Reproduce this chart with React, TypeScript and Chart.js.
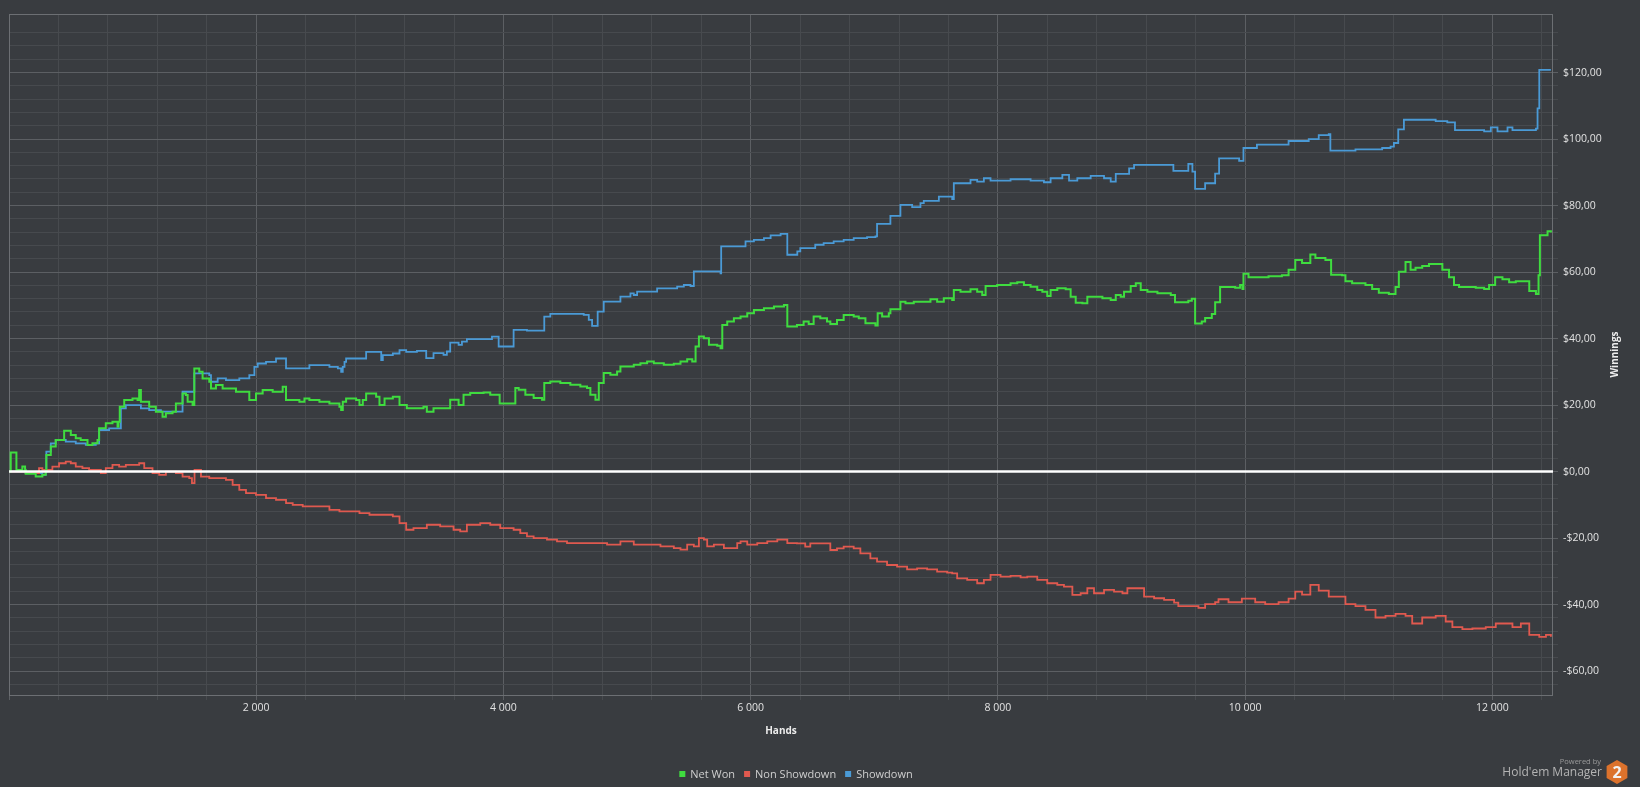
import React, { useEffect, useRef } from "react";
import { Chart, registerables } from "chart.js";

Chart.register(...registerables);

// ---------------- data ----------------
const X_MIN = 0;
const X_MAX = 12490;
const Y_MIN = -67.2;
const Y_MAX = 137.6;

const xMajorTicks = [2000, 4000, 6000, 8000, 10000, 12000];
const xMajorLabels = ["2 000", "4 000", "6 000", "8 000", "10 000", "12 000"];
const yMajorTicks = [-60, -40, -20, 0, 20, 40, 60, 80, 100, 120];
const yMajorLabels = ["-$60,00", "-$40,00", "-$20,00", "$0,00", "$20,00", "$40,00", "$60,00", "$80,00", "$100,00", "$120,00"];

const seriesNames = ["Net Won", "Non Showdown", "Showdown"];

const netWonHands = [0, 14, 60, 108, 130, 135, 216, 270, 297, 302, 338, 378, 446, 500, 540, 580, 635, 675, 716, 729, 783, 837, 878, 886, 896, 932, 999, 1040, 1053, 1067, 1134, 1188, 1242, 1269, 1323, 1350, 1404, 1431, 1445, 1485, 1499, 1539, 1566, 1620, 1634, 1674, 1728, 1836, 1944, 1998, 2052, 2133, 2214, 2241, 2349, 2390, 2430, 2511, 2592, 2673, 2687, 2700, 2727, 2808, 2835, 2862, 2889, 2970, 2997, 3038, 3105, 3159, 3218, 3353, 3380, 3434, 3569, 3637, 3677, 3731, 3839, 3893, 3969, 4096, 4123, 4177, 4244, 4312, 4330, 4379, 4460, 4541, 4622, 4676, 4703, 4744, 4771, 4811, 4865, 4919, 4946, 5054, 5108, 5162, 5216, 5297, 5378, 5432, 5486, 5527, 5554, 5581, 5621, 5662, 5729, 5756, 5770, 5810, 5864, 5918, 5972, 6026, 6107, 6188, 6269, 6296, 6374, 6428, 6469, 6509, 6563, 6617, 6644, 6698, 6752, 6833, 6874, 6928, 7009, 7027, 7063, 7117, 7130, 7211, 7252, 7319, 7454, 7508, 7562, 7630, 7643, 7697, 7778, 7832, 7873, 7900, 7994, 8102, 8156, 8210, 8264, 8318, 8359, 8399, 8426, 8480, 8548, 8588, 8629, 8683, 8723, 8845, 8912, 8953, 8993, 9020, 9074, 9115, 9155, 9209, 9290, 9398, 9432, 9540, 9568, 9595, 9649, 9676, 9730, 9757, 9797, 9919, 9959, 9978, 9986, 10027, 10189, 10297, 10351, 10405, 10460, 10527, 10568, 10649, 10695, 10784, 10811, 10865, 10973, 11027, 11081, 11162, 11216, 11243, 11297, 11338, 11378, 11432, 11487, 11595, 11649, 11689, 11730, 11865, 11933, 11973, 12022, 12081, 12135, 12189, 12243, 12298, 12352, 12373, 12384, 12446, 12473];
const netWonValues = [0, 5.7, 0.5, 1.5, 0.5, -0.7, -1.5, -1.0, 0, 5, 7.5, 9.5, 12.3, 11, 10, 9.5, 8, 8.5, 9.5, 13, 14.5, 15, 13.5, 15, 19.5, 21.5, 22, 21.5, 24.5, 21, 19.5, 18, 16.5, 17.5, 18, 20.5, 23.5, 23, 21, 20, 31, 30, 28, 27, 25, 26, 25, 24, 21.5, 23.5, 24.5, 24, 25.5, 21.5, 21, 22, 21.5, 21, 20.5, 19.5, 18.5, 21, 22, 21.5, 20, 21.5, 23.5, 22.5, 20, 22, 22.5, 20, 19, 19.5, 18, 19, 21.6, 20, 23.1, 23.6, 23.8, 23.1, 20.5, 25.1, 24.6, 23.1, 22.1, 21.6, 26.6, 27.1, 26.6, 26.1, 25.6, 25.1, 23.1, 21.6, 26.6, 29.6, 29.1, 30.1, 31.6, 32.1, 32.6, 33.1, 32.6, 32.1, 32.4, 33.1, 33.8, 33.1, 37.6, 40.6, 40.1, 38.1, 37.8, 37.1, 44.1, 45.1, 46.1, 46.6, 47.6, 48.6, 49.1, 49.6, 50.1, 43.6, 44.1, 45.1, 44.4, 46.6, 46.1, 45.1, 44.4, 45.6, 47.1, 46.6, 46.1, 44.6, 43.9, 47.6, 46.6, 47.6, 48.8, 51.1, 50.6, 51.1, 51.8, 51.1, 52.1, 51.6, 54.6, 54.1, 54.8, 54.1, 53.1, 55.8, 56.1, 56.6, 56.9, 56.1, 55.6, 54.6, 54.1, 52.8, 54.6, 55.1, 54.8, 52.6, 50.8, 50.6, 52.6, 52.1, 51.6, 53.1, 52.6, 54.1, 55.8, 56.6, 54.6, 54.1, 53.6, 53.1, 50.9, 51.4, 52.0, 44.5, 45.1, 46.2, 47.4, 50.9, 55.5, 55.3, 56.1, 54.9, 59.5, 58.4, 58.7, 59.0, 60.7, 63.6, 62.7, 65.3, 64.2, 63.6, 59.2, 59.0, 57.2, 56.6, 56.1, 54.9, 53.8, 53.4, 55.5, 60.1, 63.0, 60.7, 61.3, 61.8, 62.4, 60.7, 58.4, 56.1, 55.5, 55.3, 54.9, 56.1, 58.4, 57.8, 56.9, 57.2, 57.2, 54.3, 53.4, 59.0, 71.1, 72.3, 71.9];

const nonShowdownHands = [0, 135, 243, 270, 351, 405, 459, 500, 540, 594, 648, 743, 783, 837, 891, 945, 1053, 1094, 1161, 1215, 1269, 1350, 1404, 1458, 1480, 1501, 1553, 1620, 1755, 1809, 1863, 1917, 1998, 2079, 2160, 2241, 2295, 2376, 2484, 2592, 2673, 2835, 2916, 3024, 3105, 3159, 3213, 3272, 3380, 3488, 3596, 3650, 3704, 3812, 3893, 3974, 4082, 4136, 4190, 4244, 4352, 4433, 4514, 4730, 4838, 4946, 5054, 5270, 5378, 5432, 5486, 5540, 5581, 5621, 5648, 5702, 5783, 5891, 5918, 5972, 6053, 6134, 6215, 6296, 6374, 6441, 6482, 6563, 6644, 6698, 6752, 6833, 6887, 6968, 7022, 7103, 7184, 7265, 7346, 7427, 7508, 7589, 7630, 7670, 7751, 7832, 7886, 7940, 8021, 8102, 8183, 8237, 8318, 8399, 8480, 8534, 8602, 8669, 8723, 8777, 8858, 8939, 9007, 9047, 9128, 9182, 9263, 9344, 9425, 9459, 9622, 9676, 9757, 9784, 9865, 9973, 10081, 10162, 10270, 10351, 10405, 10460, 10527, 10595, 10676, 10757, 10811, 10892, 10973, 11054, 11135, 11216, 11297, 11351, 11432, 11541, 11622, 11676, 11757, 11838, 11946, 12027, 12108, 12162, 12230, 12298, 12379, 12433, 12473];
const nonShowdownValues = [0, -0.5, 1, 0.5, 1.5, 2.5, 3, 2.5, 1.5, 1, 0.5, -0.5, 1, 2, 1.5, 2, 2.5, 1, -0.5, -1, 0, -0.5, -1.5, -2, -3.5, 0.5, -1.5, -2, -2.5, -4, -5.5, -6.5, -7, -8, -8.5, -9.5, -10, -10.5, -10.5, -11.5, -12, -12.5, -13, -13, -13.5, -15.5, -17.5, -17, -16, -16.5, -17.5, -18, -16, -15.5, -16, -17, -17.5, -18.5, -19.5, -20, -20.5, -21, -21.5, -21.5, -22, -21, -22, -22.5, -23, -23.5, -22, -22.5, -20, -20.5, -22.5, -22, -23, -21.5, -21, -22, -21.5, -21, -20.5, -21.5, -21.6, -22.6, -21.6, -21.6, -23.6, -23.1, -22.6, -23.1, -24.6, -26.1, -27.1, -28.1, -28.6, -29.4, -29.1, -29.4, -30.1, -30.4, -30.6, -32.1, -32.6, -33.6, -32.6, -31.1, -31.6, -31.4, -31.8, -31.6, -32.6, -33.6, -34.1, -34.6, -37.1, -36.6, -35.1, -36.6, -35.6, -36.1, -36.6, -35.1, -35.1, -37.6, -38.1, -38.6, -39.4, -40.5, -41.0, -39.9, -39.3, -38.4, -39.3, -38.2, -39.3, -39.9, -39.3, -38.2, -36.1, -37.0, -34.1, -35.8, -37.6, -37.6, -39.9, -40.5, -41.6, -43.9, -43.4, -42.8, -43.4, -45.7, -43.9, -43.4, -45.1, -46.8, -47.4, -47.2, -46.8, -45.7, -45.7, -46.8, -45.7, -49.1, -49.7, -49.1, -49.7];

const showdownHands = [0, 135, 270, 297, 302, 338, 378, 459, 540, 621, 702, 729, 810, 905, 945, 1067, 1134, 1229, 1404, 1499, 1620, 1634, 1688, 1755, 1863, 1944, 1985, 2012, 2079, 2160, 2241, 2430, 2592, 2660, 2687, 2700, 2714, 2727, 2889, 3011, 3024, 3105, 3159, 3213, 3300, 3375, 3434, 3515, 3542, 3569, 3637, 3664, 3704, 3907, 3961, 4082, 4190, 4330, 4379, 4649, 4690, 4717, 4762, 4811, 4946, 5027, 5054, 5081, 5243, 5405, 5459, 5513, 5540, 5756, 5761, 5958, 6026, 6107, 6161, 6242, 6296, 6377, 6401, 6522, 6590, 6671, 6752, 6833, 6941, 7009, 7022, 7130, 7211, 7306, 7373, 7400, 7522, 7630, 7643, 7778, 7832, 7886, 7940, 8102, 8264, 8372, 8426, 8521, 8575, 8642, 8750, 8858, 8912, 8953, 9061, 9101, 9419, 9540, 9573, 9595, 9676, 9757, 9789, 9951, 9986, 10095, 10351, 10514, 10595, 10676, 10689, 10892, 11108, 11176, 11203, 11238, 11284, 11541, 11635, 11697, 11933, 11987, 12041, 12122, 12162, 12352, 12365, 12379, 12473];
const showdownValues = [0, -0.5, -1.0, 0, 6, 8.5, 9.5, 9, 8.5, 8, 8.5, 12.5, 13, 19, 20, 19, 18.5, 18, 24, 29.5, 29, 27, 28, 27.5, 28, 29, 31.5, 32.5, 33, 34, 31, 32, 31.5, 31, 30, 31.5, 33, 34, 36, 33.5, 35, 35.5, 36.5, 36, 36.3, 34.1, 35.6, 35.1, 36.1, 38.8, 38.1, 39.1, 39.8, 40.6, 37.6, 42.6, 42.4, 46.6, 47.4, 47.1, 45.6, 43.8, 48.1, 51.1, 52.6, 53.6, 53.1, 54.1, 55.1, 55.6, 56.1, 55.8, 60.2, 59.6, 67.7, 69.2, 69.7, 70.2, 71, 71.5, 65.2, 66.2, 67.2, 68.2, 68.7, 69.2, 69.7, 70.2, 70.5, 70.7, 74.5, 76.9, 80.2, 79.5, 80.7, 81.4, 82.7, 81.9, 86.7, 87.7, 87.2, 88.2, 87.5, 87.9, 87.5, 87.0, 88.2, 89.2, 87.5, 88.2, 88.9, 88.2, 87.2, 89.5, 91.2, 92.2, 90.4, 92.5, 90.2, 85.0, 86.7, 89.6, 94.2, 93.4, 97.3, 98.3, 99.4, 100, 101.2, 101.5, 96.5, 96.9, 97.3, 97.7, 98.8, 102.9, 105.8, 105.4, 105.0, 102.7, 102.3, 103.5, 102.3, 103.5, 102.7, 103.1, 109.2, 120.8, 120.8];

// ---------------- style ----------------
const BG = "#393c40";
const GRID_MINOR = "#474a4e";
const GRID_MAJOR = "#5c5f63";
const BORDER = "#6c6f73";
const TICK_TEXT = "#e2e2e2";
const LEGEND_TEXT = "#cfcfcf";
const FONT = '"Open Sans", "Noto Sans", sans-serif';
const COLORS = ["#3fdc3f", "#e0594f", "#4a9ad6"];

const toPoints = (xs: number[], ys: number[]) => xs.map((x, i) => ({ x, y: ys[i] }));

const decorPlugin = {
  id: "decor",
  beforeDraw(chart: any) {
    const ctx = chart.ctx;
    ctx.save();
    ctx.fillStyle = BG;
    ctx.fillRect(0, 0, chart.width, chart.height);
    ctx.restore();
  },
  beforeDatasetsDraw(chart: any) {
    const ctx = chart.ctx;
    const { left, top, right, bottom } = chart.chartArea;
    ctx.save();
    ctx.strokeStyle = BORDER;
    ctx.lineWidth = 1;
    ctx.strokeRect(Math.round(left) + 0.5, Math.round(top) + 0.5, Math.round(right - left) - 1, Math.round(bottom - top));
    ctx.restore();
  },
  afterDatasetsDraw(chart: any) {
    const ctx = chart.ctx;
    const { left, right } = chart.chartArea;
    const y0 = chart.scales.y.getPixelForValue(0);
    ctx.save();
    ctx.strokeStyle = "#ffffff";
    ctx.lineWidth = 2.5;
    ctx.beginPath();
    ctx.moveTo(left, y0);
    ctx.lineTo(right, y0);
    ctx.stroke();
    ctx.restore();
  },
  afterDraw(chart: any) {
    const ctx = chart.ctx;
    const { left, right, top, bottom } = chart.chartArea;
    ctx.save();
    // axis titles
    ctx.fillStyle = "#ececec";
    ctx.font = `bold 10px ${FONT}`;
    ctx.textAlign = "center";
    ctx.textBaseline = "middle";
    ctx.fillText("Hands", (left + right) / 2, 731);
    ctx.save();
    ctx.translate(1615, (top + bottom) / 2);
    ctx.rotate(-Math.PI / 2);
    ctx.fillText("Winnings", 0, 0);
    ctx.restore();

    // legend
    ctx.font = `11px ${FONT}`;
    const box = 6, gapBox = 5, gapItem = 9;
    const widths = seriesNames.map((n) => ctx.measureText(n).width);
    const total = widths.reduce((a, w) => a + box + gapBox + w, 0) + gapItem * (seriesNames.length - 1);
    let x = 796 - total / 2;
    const ly = 774;
    ctx.textAlign = "left";
    seriesNames.forEach((n, i) => {
      ctx.fillStyle = COLORS[i];
      ctx.fillRect(x, ly - 3, box, box);
      x += box + gapBox;
      ctx.fillStyle = LEGEND_TEXT;
      ctx.fillText(n, x, ly + 0.5);
      x += widths[i] + gapItem;
    });

    // logo
    ctx.textAlign = "right";
    ctx.fillStyle = "#9a9a9a";
    ctx.font = `7.5px ${FONT}`;
    ctx.fillText("Powered by", 1601, 762);
    ctx.fillStyle = "#b4b4b4";
    ctx.font = `12px ${FONT}`;
    ctx.fillText("Hold'em Manager", 1602, 773);
    const cx = 1617, cy = 772, r = 12;
    ctx.beginPath();
    for (let k = 0; k < 6; k++) {
      const a = -Math.PI / 2 + (k * Math.PI) / 3;
      const px = cx + r * Math.cos(a);
      const py = cy + r * Math.sin(a);
      if (k === 0) ctx.moveTo(px, py);
      else ctx.lineTo(px, py);
    }
    ctx.closePath();
    ctx.fillStyle = "#dc722c";
    ctx.fill();
    ctx.fillStyle = "#f2f2f2";
    ctx.font = `bold 16px ${FONT}`;
    ctx.textAlign = "center";
    ctx.fillText("2", cx, cy + 1);
    ctx.restore();
  },
};

export default function App() {
  const canvasRef = useRef<HTMLCanvasElement | null>(null);

  useEffect(() => {
    document.body.style.margin = "0";
    document.body.style.background = BG;
    document.body.style.overflow = "hidden";
    const canvas = canvasRef.current;
    if (!canvas) return;

    const xTicks: number[] = [];
    for (let v = 0; v <= X_MAX; v += 400) xTicks.push(v);
    const yTicks: number[] = [];
    for (let v = -64; v < Y_MAX - 3; v += 4) yTicks.push(v);

    const datasets = [
      { label: seriesNames[0], data: toPoints(netWonHands, netWonValues), borderColor: COLORS[0], borderWidth: 2 },
      { label: seriesNames[1], data: toPoints(nonShowdownHands, nonShowdownValues), borderColor: COLORS[1], borderWidth: 1.8 },
      { label: seriesNames[2], data: toPoints(showdownHands, showdownValues), borderColor: COLORS[2], borderWidth: 1.8 },
    ].map((d) => ({ ...d, pointRadius: 0, stepped: "before" as const, fill: false, tension: 0 }));

    const chart = new Chart(canvas, {
      type: "line",
      data: { datasets },
      plugins: [decorPlugin],
      options: {
        responsive: false,
        animation: false,
        layout: { padding: { left: 9, top: 14, right: 0, bottom: 0 } },
        plugins: { legend: { display: false }, tooltip: { enabled: false } },
        scales: {
          x: {
            type: "linear",
            min: X_MIN,
            max: X_MAX,
            afterBuildTicks: (s: any) => {
              s.ticks = xTicks.map((v) => ({ value: v }));
            },
            afterFit: (s: any) => {
              s.height = 92;
            },
            grid: {
              color: (c: any) => (c.tick && c.tick.value % 2000 === 0 ? GRID_MAJOR : GRID_MINOR),
              tickLength: 5,
              lineWidth: 1,
            },
            border: { display: false },
            ticks: {
              autoSkip: false,
              maxRotation: 0,
              padding: 2,
              color: TICK_TEXT,
              font: { family: FONT, size: 10.5 },
              callback: (v: any) => {
                const i = xMajorTicks.indexOf(Number(v));
                return i >= 0 ? xMajorLabels[i] : "";
              },
            },
          },
          y: {
            type: "linear",
            position: "right",
            min: Y_MIN,
            max: Y_MAX,
            afterBuildTicks: (s: any) => {
              s.ticks = yTicks.map((v) => ({ value: v }));
            },
            afterFit: (s: any) => {
              s.width = 87;
            },
            grid: {
              color: (c: any) => (c.tick && c.tick.value % 20 === 0 ? GRID_MAJOR : GRID_MINOR),
              tickLength: 5,
              lineWidth: 1,
            },
            border: { display: false },
            ticks: {
              autoSkip: false,
              padding: 5,
              color: TICK_TEXT,
              font: { family: FONT, size: 10.5 },
              callback: (v: any) => {
                const i = yMajorTicks.indexOf(Number(v));
                return i >= 0 ? yMajorLabels[i] : "";
              },
            },
          },
        },
      },
    } as any);

    return () => chart.destroy();
  }, []);

  return (
    <div style={{ width: 1640, height: 787, background: BG }}>
      <canvas ref={canvasRef} width={1640} height={787} style={{ display: "block", width: 1640, height: 787 }} />
    </div>
  );
}
